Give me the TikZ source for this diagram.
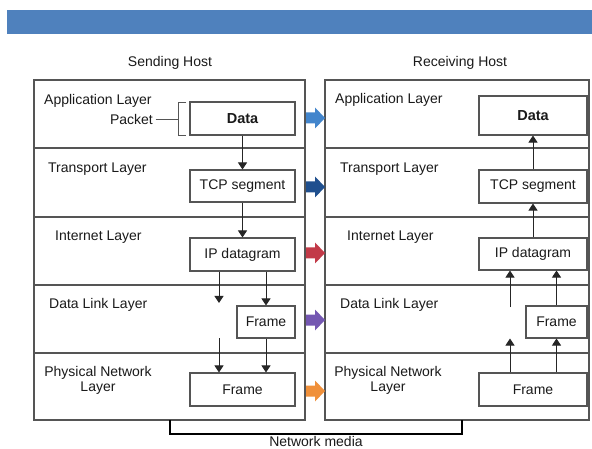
\documentclass[tikz,border=0pt]{standalone}
\usepackage{fontspec}
\setmainfont{Liberation Sans}
\usetikzlibrary{arrows.meta}
\definecolor{bannerblue}{HTML}{4F81BD}
\definecolor{linegray}{HTML}{555555}
\definecolor{txt}{HTML}{1A1A1A}
\definecolor{arA}{HTML}{4285CC}
\definecolor{arB}{HTML}{1F4F8E}
\definecolor{arC}{HTML}{C23A48}
\definecolor{arD}{HTML}{7457B2}
\definecolor{arE}{HTML}{F0903A}
\begin{document}
\begin{tikzpicture}[x=1pt,y=-1pt,
  lbl/.style={inner sep=0pt,text=txt,font=\fontsize{14}{15}\selectfont},
  hostbox/.style={draw=linegray,line width=1.1pt},
  unitbox/.style={draw=linegray,line width=1.1pt,inner sep=0pt,text=txt,
    font=\fontsize{14}{15}\selectfont},
  flow/.style={draw=black!85,line width=0.9pt,-{Triangle[width=9pt,length=7pt]}},
  plain/.style={draw=black!85,line width=0.9pt}]
\useasboundingbox (0,0) rectangle (592,449);
\fill[white] (0,0) rectangle (592,449);
% title banner
\fill[bannerblue] (7,10) rectangle (592,34);

% host frames and layer separators
\draw[hostbox] (34,80) rectangle (305,420);
\draw[hostbox] (325,80) rectangle (589,420);
\foreach \yy in {148,217,285,353}{
  \draw[hostbox] (34,\yy) -- (305,\yy);
  \draw[hostbox] (325,\yy) -- (589,\yy);
}

% host titles
\node[lbl] (shost) at (170,63) {Sending Host};
\node[lbl] (rhost) at (460,63) {Receiving Host};

% layer names, sending side
\node[lbl,anchor=west] (sapp) at (44,101) {Application Layer};
\node[lbl,anchor=east] (spkt) at (153,119) {Packet};
\node[lbl,anchor=west] (stra) at (48,169) {Transport Layer};
\node[lbl,anchor=west] (sint) at (55,237) {Internet Layer};
\node[lbl,anchor=west] (sdl)  at (49,305) {Data Link Layer};
\node[lbl,align=center] (sphy) at (98,380) {Physical Network\\Layer};

% layer names, receiving side
\node[lbl,anchor=west] (rapp) at (335,100) {Application Layer};
\node[lbl,anchor=west] (rtra) at (340,169) {Transport Layer};
\node[lbl,anchor=west] (rint) at (347,237) {Internet Layer};
\node[lbl,anchor=west] (rdl)  at (340,305) {Data Link Layer};
\node[lbl,align=center] (rphy) at (388,380) {Physical Network\\Layer};

% data units, sending side
\node[unitbox,minimum width=105pt,minimum height=33pt,font=\fontsize{14.5}{15}\selectfont\bfseries] (sdata) at (242.5,118.5) {Data};
\node[unitbox,minimum width=105pt,minimum height=32pt] (stcp) at (242.5,186) {TCP segment};
\node[unitbox,minimum width=105pt,minimum height=33pt] (sip) at (242.5,254.5) {IP datagram};
\node[unitbox,minimum width=58pt,minimum height=32pt] (sfr) at (266,322) {Frame};
\node[unitbox,minimum width=105pt,minimum height=33pt] (sphf) at (242.5,389.5) {Frame};

% data units, receiving side
\node[unitbox,minimum width=108pt,minimum height=39pt,font=\fontsize{14.5}{15}\selectfont\bfseries] (rdata) at (533,115.5) {Data};
\node[unitbox,minimum width=108pt,minimum height=33pt] (rtcp) at (533,186.5) {TCP segment};
\node[unitbox,minimum width=108pt,minimum height=32pt] (rip) at (533,254) {IP datagram};
\node[unitbox,minimum width=61pt,minimum height=32pt] (rfr) at (556.5,322) {Frame};
\node[unitbox,minimum width=108pt,minimum height=33pt] (rphf) at (533,389.5) {Frame};

% packet bracket
\coordinate (bt) at (178,102);
\coordinate (bb) at (178,135);
\draw[plain,draw=linegray] (186,102) -- (bt) -- (bb) -- (186,135);
\draw[plain,draw=linegray] (spkt.east) ++(2.5,0) -- (spkt.east -| bt);

% downward flow through the sending stack
\coordinate (sl1) at (219,303);
\coordinate (sl2) at (219,338);
\draw[flow] (sdata.south) -- (stcp.north);
\draw[flow] (stcp.south) -- (sip.north);
\draw[flow] (sl1 |- sip.south) -- (sl1);
\draw[flow] (sfr.north |- sip.south) -- (sfr.north);
\draw[flow] (sl2) -- (sl2 |- sphf.north);
\draw[flow] (sfr.south) -- (sfr.south |- sphf.north);

% upward flow through the receiving stack
\coordinate (rl1) at (510,307);
\coordinate (rl2) at (510,373);
\draw[flow] (rtcp.north) -- (rdata.south);
\draw[flow] (rip.north) -- (rtcp.south);
\draw[flow] (rl1) -- (rl1 |- rip.south);
\draw[flow] (rfr.north) -- (rfr.north |- rip.south);
\draw[flow] (rl2 |- rphf.north) -- (rl2 |- rfr.south);
\draw[flow] (rfr.south |- rphf.north) -- (rfr.south);

% coloured block arrows between the hosts
\foreach \yy/\cc in {118/arA,187/arB,253/arC,320/arD,391/arE}{
  \fill[\cc] (306,\yy-5.5) -- (315,\yy-5.5) -- (315,\yy-10.5) -- (325,\yy)
     -- (315,\yy+10.5) -- (315,\yy+5.5) -- (306,\yy+5.5) -- cycle;
}

% network media link
\coordinate (nm1) at (170,420);
\coordinate (nm2) at (462,420);
\draw[black,line width=2.3pt] (nm1) -- ++(0,14) -| (nm2);
\node[lbl] (media) at (316,441.5) {Network media};
\end{tikzpicture}
\end{document}
